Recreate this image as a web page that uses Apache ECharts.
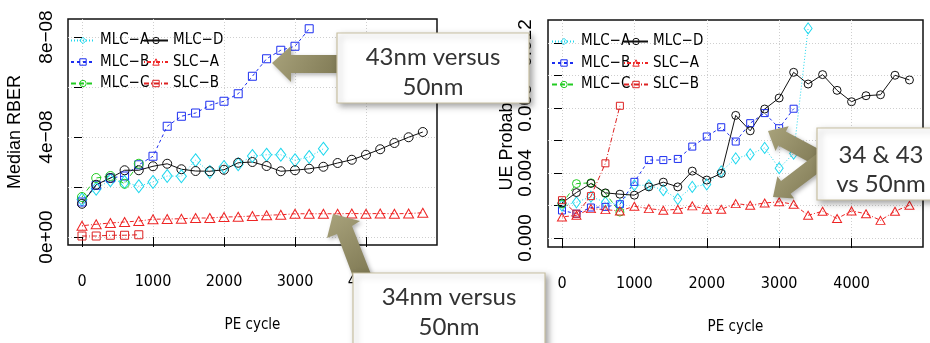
<!DOCTYPE html>
<html>
<head>
<meta charset="utf-8">
<script src="https://cdn.jsdelivr.net/npm/echarts@6/dist/echarts.min.js"></script>
<style>
html, body { margin: 0; padding: 0; background: #fff; }
#chart { width: 930px; height: 343px; }
</style>
</head>
<body>
<div id="chart"></div>
<script>
// PE cycle positions shared by every series
const peCycles = [0, 200, 400, 600, 800, 1000, 1200, 1400, 1600, 1800, 2000, 2200, 2400,
  2600, 2800, 3000, 3200, 3400, 3600, 3800, 4000, 4200, 4400, 4600, 4800];

// left panel: median RBER, in units of 1e-8
const rberMlcA = [1.5, 1.93, 2.27, 2.2, 2.03, 2.2, 2.44, 2.43, 3.07, 2.6, 2.8, 2.91, 3.24, 3.29, 3.29, 3.07, 3.2, 3.53];
const rberMlcB = [1.4, 2.07, 2.36, 2.44, 2.89, 3.23, 4.43, 4.83, 4.96, 5.27, 5.43, 5.73, 6.43, 7.13, 7.47, 7.63, 8.33];
const rberMlcC = [1.6, 2.36, 2.44, 2.13, 2.93];
const rberMlcD = [1.33, 2.09, 2.36, 2.67, 2.67, 2.83, 2.93, 2.71, 2.64, 2.63, 2.69, 2.97, 3.0, 2.84, 2.63, 2.67,
  2.73, 2.81, 2.96, 3.09, 3.29, 3.51, 3.76, 3.99, 4.2];
const rberSlcA = [0.45, 0.51, 0.56, 0.6, 0.64, 0.71, 0.72, 0.73, 0.76, 0.76, 0.8, 0.81, 0.84, 0.87, 0.89, 0.93,
  0.93, 0.93, 0.93, 0.94, 0.93, 0.94, 0.93, 0.94, 0.97];
const rberSlcB = [0.04, 0.04, 0.07, 0.07, 0.09];

// right panel: UE probability, in units of 1e-3
const ueMlcA = [2.0, 2.2, 2.55, 2.2, 2.05, 3.25, 3.25, 2.95, 2.4, 3.15, 3.3, 4.1, 4.9, 5.15, 5.55, 4.3, 5.2, 12.9];
const ueMlcB = [1.7, 1.5, 1.88, 1.92, 2.08, 3.46, 4.8, 4.8, 4.87, 5.63, 6.25, 6.82, 5.94, 7.07, 7.69, 6.76, 7.96];
const ueMlcC = [2.1, 3.35, 3.4, 2.75, 1.6];
const ueMlcD = [2.16, 2.8, 3.36, 2.78, 2.7, 2.64, 3.15, 3.44, 3.15, 4.12, 3.57, 3.98, 7.55, 6.6, 7.94, 8.62,
  10.2, 9.48, 10.06, 9.09, 8.39, 8.76, 8.82, 10.02, 9.73];
const ueSlcA = [1.3, 1.4, 1.81, 1.75, 1.67, 1.96, 1.81, 1.71, 1.77, 1.98, 1.77, 1.77, 2.12, 2.02, 2.16, 2.23,
  2.08, 1.4, 1.65, 1.2, 1.67, 1.5, 1.09, 1.65, 2.02];
const ueSlcB = [2.33, 1.5, 2.58, 4.6, 8.14];

// axis ticks and labels
const xTicks = [0, 1000, 2000, 3000, 4000];
const rberTicks = [0, 2e-8, 4e-8, 6e-8, 8e-8];
const rberLabelValues = [0, 4e-8, 8e-8];
const rberLabels = ['0e+00', '4e\u221208', '8e\u221208'];
const ueTicks = [0, 0.002, 0.004, 0.006, 0.008, 0.010, 0.012];
const ueLabelValues = [0, 0.004, 0.008, 0.012];
const ueLabels = ['0.000', '0.004', '0.008', '0.012'];

const names = ['MLC\u2212A', 'MLC\u2212B', 'MLC\u2212C', 'MLC\u2212D', 'SLC\u2212A', 'SLC\u2212B'];

const NARROW = "'Liberation Sans Narrow', 'DejaVu Sans Condensed', sans-serif";
const SANS = "'Liberation Sans', Arial, sans-serif";
const NOTE = "Lato, 'Open Sans', sans-serif";

const look = [
  { color: '#1fd8ee', symbol: 'diamond', size: [[10, 13], [8, 11]], dash: [1, 2] },
  { color: '#1c2ef0', symbol: 'rect', size: [8, 7], dash: [3, 3] },
  { color: '#22cc22', symbol: 'circle', size: [9, 8], dash: [5, 3] },
  { color: '#111111', symbol: 'circle', size: [9, 8], dash: 'solid' },
  { color: '#ee2424', symbol: 'triangle', size: [[10, 9], [9, 8]], dash: [1, 2, 4, 2] },
  { color: '#dd2222', symbol: 'rect', size: [8, 7], dash: [5, 2, 1, 2] }
];

function makeSeries(panel, idx, vals, unit) {
  const s = look[idx];
  return {
    name: names[idx],
    type: 'line',
    xAxisIndex: panel,
    yAxisIndex: panel,
    data: vals.map((v, i) => [peCycles[i], v * unit]),
    symbol: s.symbol,
    symbolSize: s.size[panel],
    showAllSymbol: true,
    clip: false,
    lineStyle: { color: s.color, width: 1, type: s.dash },
    itemStyle: { color: 'rgba(255,255,255,0)', borderColor: s.color, borderWidth: 1 },
    emphasis: { disabled: true }
  };
}

const series = [
  makeSeries(0, 0, rberMlcA, 1e-8),
  makeSeries(0, 1, rberMlcB, 1e-8),
  makeSeries(0, 2, rberMlcC, 1e-8),
  makeSeries(0, 3, rberMlcD, 1e-8),
  makeSeries(0, 4, rberSlcA, 1e-8),
  makeSeries(0, 5, rberSlcB, 1e-8),
  makeSeries(1, 0, ueMlcA, 1e-3),
  makeSeries(1, 1, ueMlcB, 1e-3),
  makeSeries(1, 2, ueMlcC, 1e-3),
  makeSeries(1, 3, ueMlcD, 1e-3),
  makeSeries(1, 4, ueSlcA, 1e-3),
  makeSeries(1, 5, ueSlcB, 1e-3)
];

function xAxisFor(grid, min, max) {
  return {
    gridIndex: grid, type: 'value', min: min, max: max,
    name: 'PE cycle', nameLocation: 'middle', nameGap: 73,
    nameTextStyle: { fontFamily: NARROW, fontSize: 15, color: '#000' },
    axisLine: { show: false },
    axisTick: { show: true, length: 10, customValues: xTicks, lineStyle: { color: '#000' } },
    axisLabel: { customValues: xTicks, margin: 29, fontFamily: NARROW, fontSize: 16, color: '#000',
      formatter: v => String(v) },
    splitLine: { show: true, lineStyle: { color: '#cfcfcf', type: [1, 2] } }
  };
}

// y tick labels are placed below as rotated texts at the axis' own pixel positions
function yAxisFor(grid, min, max, ticks, name, gap) {
  return {
    gridIndex: grid, type: 'value', min: min, max: max,
    name: name, nameLocation: 'middle', nameRotate: 90, nameGap: gap,
    nameTextStyle: { fontFamily: SANS, fontSize: 18, color: '#000' },
    axisLine: { show: false },
    axisTick: { show: true, length: 8, customValues: ticks, lineStyle: { color: '#000' } },
    axisLabel: { show: false },
    splitLine: { show: true, lineStyle: { color: '#cfcfcf', type: [1, 2] } }
  };
}

function legendFor(data, left, top) {
  return {
    data: data, orient: 'vertical', left: left, top: top,
    itemWidth: 24, itemHeight: 8, itemGap: 6.5, padding: 0,
    selectedMode: false,
    itemStyle: { color: 'rgba(255,255,255,0)', borderWidth: 1 },
    textStyle: { fontFamily: NARROW, fontSize: 15, color: '#000', lineHeight: 14 }
  };
}

// olive callout arrows
const arrowFill = new echarts.graphic.LinearGradient(0, 0, 1, 1, [
  { offset: 0, color: '#a9a37c' },
  { offset: 1, color: '#7b7550' }
]);
const arrowShadow = { shadowBlur: 4, shadowOffsetX: 2, shadowOffsetY: 2, shadowColor: 'rgba(0,0,0,0.3)' };
const boxStyle = { fill: '#fff', stroke: '#c8c0a2', lineWidth: 1.2, shadowBlur: 6, shadowOffsetX: 3,
  shadowOffsetY: 3, shadowColor: 'rgba(0,0,0,0.35)' };

function arrow(points) {
  return { type: 'polygon', z: 100, shape: { points: points },
    style: Object.assign({ fill: arrowFill }, arrowShadow) };
}
function box(x, y, w, h) {
  return { type: 'rect', z: 101, shape: { x: x, y: y, width: w, height: h }, style: boxStyle };
}
function noteText(x, y, text) {
  return { type: 'text', z: 102, style: { x: x, y: y, text: text, font: '24px ' + NOTE, fill: '#333',
    align: 'center', verticalAlign: 'middle', textAlign: 'center', textVerticalAlign: 'middle' } };
}

const graphics = [
  arrow([[272, 63], [291, 46], [291, 55], [345, 55], [345, 73], [291, 73], [291, 82]]),
  arrow([[333, 214], [360, 221], [352, 226], [374, 282], [355, 282], [337, 234], [327, 238]]),
  arrow([[768, 131], [788.7, 126.3], [785.9, 131.6], [826, 153], [818, 167], [778.3, 145.6], [775.5, 150.9]]),
  arrow([[773, 197], [777.4, 176.2], [781, 181], [817, 153.6], [827, 166.4], [790.6, 193.8], [794.2, 198.6]]),
  box(337, 33, 192, 70),
  box(353, 273, 192, 90),
  box(817, 128, 130, 72),
  noteText(433, 57, '43nm versus'),
  noteText(433, 87, '50nm'),
  noteText(449, 297, '34nm versus'),
  noteText(449, 327, '50nm'),
  noteText(881, 155, '34 & 43'),
  noteText(881, 184, 'vs 50nm')
];

const option = {
  animation: false,
  backgroundColor: '#fff',
  grid: [
    { left: 68, top: 19, width: 369, height: 226, show: true, borderColor: '#111', borderWidth: 1.5,
      backgroundColor: 'transparent', outerBoundsMode: 'none' },
    { left: 548, top: 20, width: 375, height: 227, show: true, borderColor: '#111', borderWidth: 1.5,
      backgroundColor: 'transparent', outerBoundsMode: 'none' }
  ],
  xAxis: [xAxisFor(0, -197, 5000), xAxisFor(1, -193, 4987)],
  yAxis: [
    yAxisFor(0, -0.32e-8, 8.72e-8, rberTicks, 'Median RBER', 44),
    yAxisFor(1, -0.00055, 0.01342, ueTicks, 'UE Probability', 32)
  ],
  legend: [
    legendFor(names.slice(0, 3), 70, 33),
    legendFor(names.slice(3, 6), 143, 33),
    legendFor(names.slice(0, 3), 551, 34),
    legendFor(names.slice(3, 6), 623, 34)
  ],
  tooltip: { show: false },
  series: series,
  graphic: graphics
};

const chart = echarts.init(document.getElementById('chart'), null, { renderer: 'canvas' });
chart.setOption(option);

// rotated y tick labels, centred on the ticks the axes report
function tickText(axisIndex, x, value, text) {
  const y = chart.convertToPixel({ yAxisIndex: axisIndex }, value);
  return { type: 'text', z: 50, x: x, y: y, rotation: Math.PI / 2,
    style: { text: text, font: '19px ' + SANS, fill: '#000', align: 'center', verticalAlign: 'middle',
      textAlign: 'center', textVerticalAlign: 'middle' } };
}
const tickTexts = rberLabelValues.map((v, i) => tickText(0, 47, v, rberLabels[i]))
  .concat(ueLabelValues.map((v, i) => tickText(1, 526, v, ueLabels[i])));
chart.setOption({ graphic: graphics.concat(tickTexts) });
</script>
</body>
</html>
